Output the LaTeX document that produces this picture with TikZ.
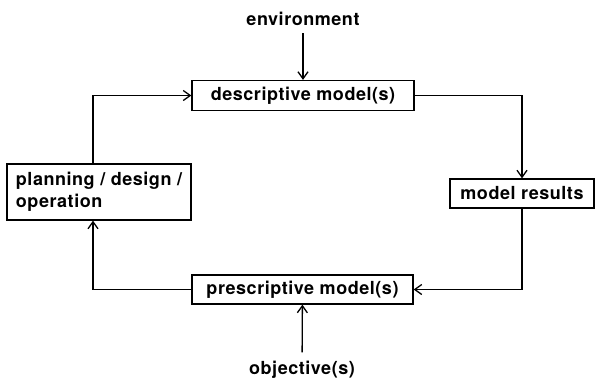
\documentclass[tikz,border=0pt]{standalone}
\usepackage{fontspec}
\setmainfont{TeX Gyre Heros}[LetterSpace=3.0]
\usetikzlibrary{arrows.meta}
\tikzset{
  LabelStyle/.style = {text = black, inner sep=8pt,
                       font = \fontsize{18}{22}\selectfont\bfseries},
  BoxStyle/.style = {draw=black, line width=1.3pt, inner sep=0pt,
                     minimum height=30pt,
                     font = \fontsize{18}{22}\selectfont\bfseries},
  EdgeStyle/.style = {black, line width=1.3pt, ->,
                      >={Straight Barb[length=7pt,width=10pt]}} }

\begin{document}
\begin{tikzpicture}[x=1pt,y=-1pt]
  \useasboundingbox (0,0) rectangle (595,381);
  \node[BoxStyle, minimum width=222pt] (Desc) at (303,95.5) {descriptive model(s)};
  \node[BoxStyle, minimum width=221pt, minimum height=29pt] (Pres) at (302.5,289.5) {prescriptive model(s)};
  \node[BoxStyle, minimum width=144pt, minimum height=29pt] (Results) at (522,193.5) {model results};
  \node[BoxStyle, minimum width=184pt, minimum height=56pt,
        align=left] (Plan) at (99,192) {planning / design /\\operation};
  \node[LabelStyle, anchor=base] (Env) at (303,25) {environment};
  \node[LabelStyle, anchor=base] (Obj) at (302,374) {objective(s)};
  \draw[EdgeStyle] (Env) -- (Desc);
  \draw[EdgeStyle] (Obj) -- (Pres);
  \draw[EdgeStyle] (Desc.east) -| (Results.north);
  \draw[EdgeStyle] (Results.south) |- (Pres.east);
  \draw[EdgeStyle] (Pres.west) -| ([xshift=-6pt]Plan.south);
  \draw[EdgeStyle] ([xshift=-6pt]Plan.north) |- (Desc.west);
\end{tikzpicture}
\end{document}
